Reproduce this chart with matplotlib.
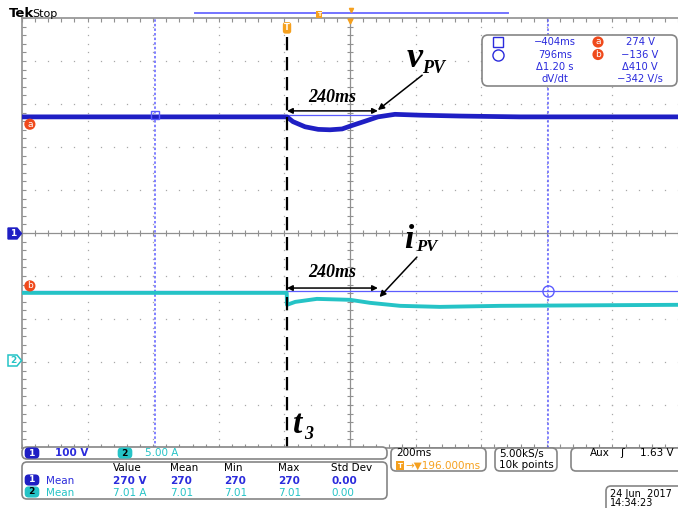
import matplotlib
matplotlib.use('Agg')
from matplotlib import pyplot as plt
from matplotlib.patches import FancyBboxPatch, Polygon
import numpy as np

W, H = 678, 508

# time base: 200 ms/div, trigger at t = 0
t_left = -808
t_div = 200

# channel 1: PV voltage, 100 V/div, ground at screen centre
ch1_t = [-808, 0, 18, 55, 95, 131, 168, 198, 238, 277, 329, 405, 527, 710, 1192]
ch1_v = [270, 270, 259, 247, 241, 240, 242, 250, 260, 270, 276, 274, 272, 270, 270]
ch1_scale = 100.0
ch1_offset = 0.0

# channel 2: PV current, 5 A/div, ground marker at -2.95 div
ch2_t = [-808, -1, 0, 25, 91, 192, 253, 345, 466, 650, 1192]
ch2_a = [7.79, 7.79, 6.40, 6.74, 7.09, 6.98, 6.63, 6.28, 6.16, 6.28, 6.40]
ch2_scale = 5.0
ch2_offset = -2.95

# cursors
cur_a = 274     # V
cur_b = -136    # V
cur_t1 = -404   # ms
cur_t2 = 796    # ms
span_ms = 277   # end of the 240ms arrows

readout_left = ['\u2212404ms', '796ms', '\u03941.20 s', 'dV/dt']
readout_right = ['274 V', '\u2212136 V', '\u0394410 V', '\u2212342 V/s']
meas_head = ['Value', 'Mean', 'Min', 'Max', 'Std Dev']
meas_ch1 = ['270 V', '270', '270', '270', '0.00']
meas_ch2 = ['7.01 A', '7.01', '7.01', '7.01', '0.00']

BLUE = '#1f1fc4'
CYAN = '#25c3c6'
CUR = '#5c5cff'
ORANGE = '#f5a01e'
RED = '#ef4a1c'
GRID = '#a8a8a8'
TXTBLUE = '#2b2bdc'

fig = plt.figure(figsize=(W / 100, H / 100), dpi=100)
ax = fig.add_axes([22 / W, (H - 448) / H, 656 / W, 430 / H])
ax.set_xlim(t_left, t_left + 10 * t_div)
ax.set_ylim(-5, 5)
centre = t_left + 5 * t_div

#############################
## GRATICULE
#############################
gx = t_left + t_div * np.arange(11)
mx = t_left + t_div / 5 * np.arange(51)
my = np.arange(-25, 26) / 5.0
for x in gx[1:-1]:
    if x == centre:
        continue
    ax.plot(np.full(len(my), x), my, ls='none', marker='s', ms=0.9, color=GRID, mew=0)
for y in range(-4, 5):
    if y == 0:
        continue
    ax.plot(mx, np.full(len(mx), y), ls='none', marker='s', ms=0.9, color=GRID, mew=0)
ax.axhline(0, color='#909090', lw=0.9, zorder=1)
ax.axvline(centre, color='#909090', lw=0.9, zorder=1)
ax.plot(mx, np.zeros(len(mx)), ls='none', marker='|', ms=5, mew=0.8, color='#909090')
ax.plot(np.full(len(my), centre), my, ls='none', marker='_', ms=5, mew=0.8, color='#909090')

ax.set_xticks(mx)
ax.set_yticks(my)
ax.tick_params(direction='in', length=3, width=0.8, color='#909090',
               top=True, bottom=True, left=True, right=False,
               labelbottom=False, labelleft=False)
for s in ['left', 'top', 'bottom']:
    ax.spines[s].set_color('#909090')
    ax.spines[s].set_linewidth(1.2)
ax.spines['right'].set_visible(False)

#############################
## CURSORS
#############################
ax.axhline(cur_a / ch1_scale, color=CUR, lw=0.9, zorder=3)
ax.axhline(cur_b / ch1_scale, color=CUR, lw=0.9, zorder=3)
ax.axvline(cur_t1, color=CUR, lw=1.1, ls=(0, (1.6, 1.4)), zorder=3)
ax.axvline(cur_t2, color=CUR, lw=1.1, ls=(0, (1.6, 1.4)), zorder=3)

#############################
## TRACES
#############################
ax.plot(ch1_t, np.array(ch1_v) / ch1_scale + ch1_offset, color=BLUE, lw=3.4,
        solid_joinstyle='round', zorder=4)
ax.plot(ch2_t, np.array(ch2_a) / ch2_scale + ch2_offset, color=CYAN, lw=2.8,
        solid_joinstyle='round', zorder=4)

ax.plot(cur_t1, cur_a / ch1_scale, marker='s', ms=6, mfc='none', mec=CUR, mew=1, zorder=5)
ax.plot(cur_t2, cur_b / ch1_scale, marker='o', ms=8, mfc='none', mec=CUR, mew=1, zorder=5)

# cursor badges and trigger marker
ax.text(-784, 2.53, 'a', color='white', fontsize=6.5, ha='center', va='center', zorder=6,
        bbox=dict(boxstyle='circle,pad=0.12', fc=RED, ec='none'))
ax.text(-784, -1.23, 'b', color='white', fontsize=6.5, ha='center', va='center', zorder=6,
        bbox=dict(boxstyle='circle,pad=0.12', fc=RED, ec='none'))
ax.text(0, 4.77, 'T', color='white', fontsize=6, fontweight='bold', ha='center', va='center',
        zorder=6, bbox=dict(boxstyle='round,pad=0.15,rounding_size=0.3', fc=ORANGE, ec='none'))
ax.plot(centre, 4.93, marker='v', ms=3.5, color=ORANGE, clip_on=False, zorder=6)

#############################
## ANNOTATIONS
#############################
ax.plot([0, 0], [4.55, -5], color='black', lw=1.6, ls=(0, (6, 3)), zorder=6)
serif = 'Liberation Serif'
for yarr, ylab in [(2.84, 3.16), (-1.28, -0.93)]:
    ax.annotate('', xy=(span_ms, yarr), xytext=(0, yarr),
                arrowprops=dict(arrowstyle='<|-|>', color='black', lw=1.1,
                                mutation_scale=8, shrinkA=0, shrinkB=0), zorder=7)
    ax.text(137, ylab, '240ms', family=serif, style='italic', fontweight='bold',
            fontsize=13, ha='center', va='center', zorder=7)

ax.annotate('', xy=(span_ms, 2.86), xytext=(412, 3.67),
            arrowprops=dict(arrowstyle='-|>', color='black', lw=1.1,
                            mutation_scale=9, shrinkA=0, shrinkB=0), zorder=7)
ax.annotate('', xy=(span_ms + 5, -1.49), xytext=(396, -0.56),
            arrowprops=dict(arrowstyle='-|>', color='black', lw=1.1,
                            mutation_scale=9, shrinkA=0, shrinkB=0), zorder=7)

ax.text(366, 3.85, 'v', family=serif, style='italic', fontweight='bold', fontsize=26,
        ha='left', va='baseline', zorder=7)
ax.text(412, 3.73, 'PV', family=serif, style='italic', fontweight='bold', fontsize=13,
        ha='left', va='baseline', zorder=7)
ax.text(358, -0.35, 'i', family=serif, style='italic', fontweight='bold', fontsize=24,
        ha='left', va='baseline', zorder=7)
ax.text(392, -0.43, 'PV', family=serif, style='italic', fontweight='bold', fontsize=12,
        ha='left', va='baseline', zorder=7)
ax.text(18, -4.65, 't', family=serif, style='italic', fontweight='bold', fontsize=24,
        ha='left', va='baseline', zorder=7)
ax.text(52, -4.8, '3', family=serif, style='italic', fontweight='bold', fontsize=13,
        ha='left', va='baseline', zorder=7)

#############################
## SCREEN CHROME (pixel overlay)
#############################
ov = fig.add_axes([0, 0, 1, 1], zorder=5)
ov.set_xlim(0, W)
ov.set_ylim(H, 0)
ov.axis('off')


def box(x0, y0, x1, y1, r=5):
    ov.add_patch(FancyBboxPatch((x0, y0), x1 - x0, y1 - y0,
                                boxstyle='round,pad=0,rounding_size=%g' % r,
                                fc='white', ec='#858585', lw=1.2, clip_on=False))


def badge(x, y, s, fc, tc):
    ov.text(x, y, s, color=tc, fontsize=6.5, fontweight='bold', ha='center', va='center',
            bbox=dict(boxstyle='round,pad=0.12,rounding_size=0.45', fc=fc, ec='none'))


# top bar
ov.text(9, 17, 'Tek', fontsize=9.5, fontweight='bold', va='baseline', ha='left')
ov.text(32, 17, 'Stop', fontsize=8, va='baseline', ha='left')
ov.plot([195, 508], [13, 13], color='#7474ff', lw=1.4)
ov.text(319, 14.5, 'T', color='white', fontsize=4.5, fontweight='bold', ha='center', va='center',
        bbox=dict(boxstyle='square,pad=0.2', fc=ORANGE, ec='none'))
ov.plot(351, 9.5, marker='v', ms=3, color=ORANGE)

# channel ground markers
ov.add_patch(Polygon([(8, 228), (17, 228), (21.5, 233.5), (17, 239), (8, 239)],
                     closed=True, fc=BLUE, ec=BLUE))
ov.text(13.5, 233.8, '1', color='white', fontsize=6.5, fontweight='bold', ha='center', va='center')
ov.add_patch(Polygon([(8, 355), (17, 355), (21.5, 360.5), (17, 366), (8, 366)],
                     closed=True, fc='white', ec=CYAN, lw=1.1))
ov.text(13.5, 360.8, '2', color=CYAN, fontsize=6.5, fontweight='bold', ha='center', va='center')

# cursor readout
box(482, 35, 677, 86, 6)
rows_y = [42, 54.5, 67, 79]
ov.plot(498, rows_y[0], marker='s', ms=7, mfc='none', mec=TXTBLUE, mew=1)
ov.plot(498, rows_y[1], marker='o', ms=8, mfc='none', mec=TXTBLUE, mew=1)
for yy, sl, sr in zip(rows_y, readout_left, readout_right):
    ov.text(555, yy, sl, color=TXTBLUE, fontsize=7.2, ha='center', va='center')
    ov.text(640, yy, sr, color=TXTBLUE, fontsize=7.2, ha='center', va='center')
for yy, s in zip(rows_y[:2], ['a', 'b']):
    ov.text(598, yy, s, color='white', fontsize=6.5, ha='center', va='center',
            bbox=dict(boxstyle='circle,pad=0.12', fc=RED, ec='none'))

# channel settings
box(22, 447, 387, 459, 5)
badge(32, 453, ' 1 ', BLUE, 'white')
ov.text(55, 453.5, '100 V', color=TXTBLUE, fontsize=7.5, fontweight='bold', va='center')
badge(125, 453, ' 2 ', CYAN, 'black')
ov.text(145, 453.5, '5.00 A', color=CYAN, fontsize=7.5, va='center')

# measurement table
box(22, 462, 387, 499, 5)
cols_x = [113, 170, 224, 278, 331]
for cx, s in zip(cols_x, meas_head):
    ov.text(cx, 468, s, color='black', fontsize=7.5, va='center')
badge(32, 480, ' 1 ', BLUE, 'white')
ov.text(46, 480.5, 'Mean', color=TXTBLUE, fontsize=7.5, va='center')
badge(32, 492, ' 2 ', CYAN, 'black')
ov.text(46, 492.5, 'Mean', color=CYAN, fontsize=7.5, va='center')
for cx, s1, s2 in zip(cols_x, meas_ch1, meas_ch2):
    ov.text(cx, 480.5, s1, color=TXTBLUE, fontsize=7.5, fontweight='bold', va='center')
    ov.text(cx, 492.5, s2, color=CYAN, fontsize=7.5, va='center')

# horizontal / acquisition / trigger
box(391, 448, 486, 471, 5)
ov.text(396, 453.5, '200ms', color='black', fontsize=7.5, va='center')
ov.text(400, 465.5, 'T', color='white', fontsize=5, fontweight='bold', ha='center', va='center',
        bbox=dict(boxstyle='square,pad=0.2', fc=ORANGE, ec='none'))
ov.text(405, 465.5, '\u2192\u25bc196.000ms', color=ORANGE, fontsize=7.5, va='center')
box(495, 448, 557, 471, 5)
ov.text(499, 453.5, '5.00kS/s', color='black', fontsize=7.5, va='center')
ov.text(499, 465.5, '10k points', color='black', fontsize=7.5, va='center')
box(571, 448, 700, 471, 5)
ov.text(590, 453.5, 'Aux', color='black', fontsize=7.5, va='center')
ov.text(620, 453.5, '\u0283', color='black', fontsize=8, va='center')
ov.text(640, 453.5, '1.63 V', color='black', fontsize=7.5, va='center')
box(606, 486, 700, 515, 5)
ov.text(610, 494, '24 Jun  2017', color='black', fontsize=7, va='center')
ov.text(610, 503.5, '14:34:23', color='black', fontsize=7, va='center')

fig.savefig('out.png', dpi=100)
